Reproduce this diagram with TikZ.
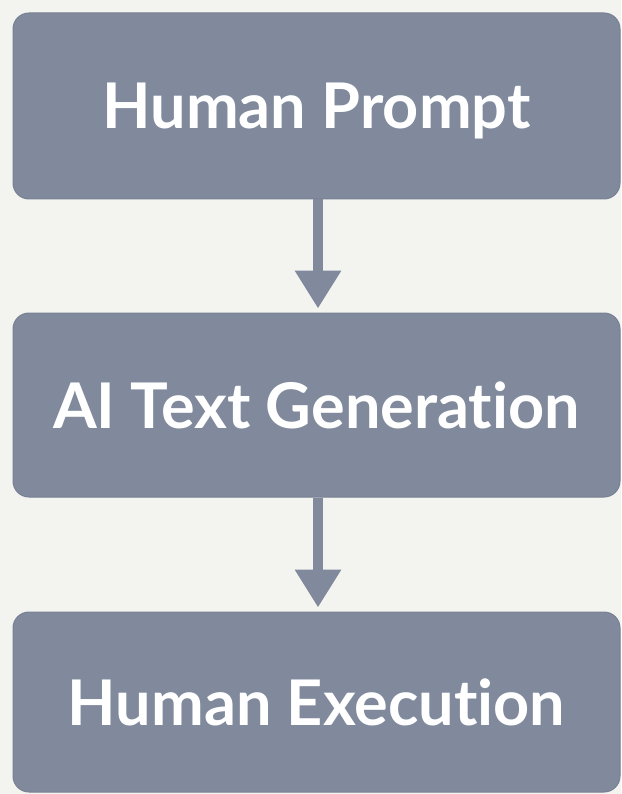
\documentclass[tikz,border=0pt]{standalone}
\usepackage{fontspec}
\setmainfont{Lato}[Ligatures={NoCommon,NoRare}]
\usetikzlibrary{arrows.meta}
\definecolor{bgc}{HTML}{F3F3EF}
\definecolor{boxc}{HTML}{808A9C}
\definecolor{boxedge}{HTML}{778193}
\tikzset{
  x=1pt, y=-1pt,
  stage/.style={draw=boxedge, line width=1pt, fill=boxc, rounded corners=16pt,
    minimum width=607pt, inner sep=0pt, text=white,
    text height=46pt, text depth=0pt,
    font=\fontsize{63}{70}\selectfont\bfseries},
  flow/.style={draw=boxc, line width=10pt,
    -{Triangle[width=44pt,length=38pt]}, shorten >=4pt}
}
\begin{document}
\begin{tikzpicture}
\fill[bgc] (0,0) rectangle (621,794);
\useasboundingbox (0,0) rectangle (621,794);
\node[stage, minimum height=186pt] (prompt) at (316.5,106) {Human Prompt};
\node[stage, minimum height=184pt] (gen) at (316.5,405) {AI Text Generation};
\node[stage, minimum height=180pt] (exec) at (316.5,702) {Human Execution};
\draw[flow] (prompt.south -| 318,0) -- (gen.north -| 318,0);
\draw[flow] (gen.south -| 318,0) -- (exec.north -| 318,0);
\end{tikzpicture}
\end{document}
